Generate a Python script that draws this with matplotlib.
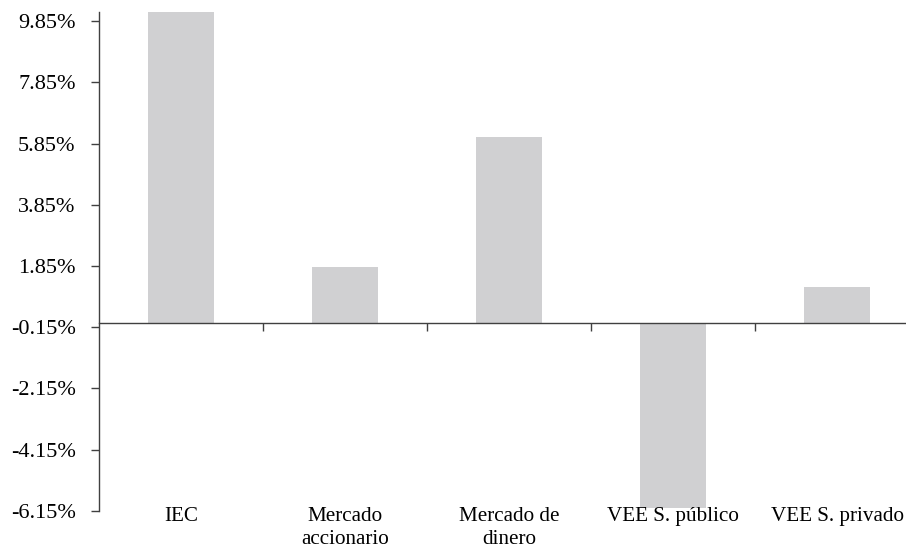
import matplotlib
matplotlib.use("Agg")
import matplotlib.pyplot as plt
import matplotlib.transforms as mtransforms
import numpy as np

categories = ["IEC", "Mercado\naccionario", "Mercado de\ndinero", "VEE S. público", "VEE S. privado"]
values = [10.15, 1.82, 6.07, -6.06, 1.15]
ytick_vals = [-6.15, -4.15, -2.15, -0.15, 1.85, 3.85, 5.85, 7.85, 9.85]
ytick_labels = ["%.2f%%" % v for v in ytick_vals]

plt.rcParams['font.family'] = ['Liberation Serif', 'DejaVu Serif']
fig = plt.figure(figsize=(9.06, 5.51), dpi=100)
ax = fig.add_axes([0.1096, 0.0731, 0.905, 0.905])

x = np.arange(len(categories))
ax.bar(x, values, width=0.4, color="#D0D0D2", zorder=1, clip_on=False)

ax.set_xlim(-0.5, len(categories) - 0.5)
ax.set_ylim(-6.15, 10.15)

axis_col = "#404040"
for s in ["top", "right"]:
    ax.spines[s].set_visible(False)
ax.spines["left"].set_color(axis_col)
ax.spines["bottom"].set_color(axis_col)
ax.spines["left"].set_linewidth(1.0)
ax.spines["bottom"].set_linewidth(1.0)
ax.spines["bottom"].set_position(("data", 0))
ax.spines["bottom"].set_zorder(3)

ax.set_yticks(ytick_vals)
ax.set_yticklabels(ytick_labels, fontsize=16)
ax.tick_params(axis="y", direction="out", length=6, width=1, color=axis_col, pad=11)

ax.set_xticks(np.arange(len(categories)) + 0.5)
ax.set_xticklabels([])
ax.tick_params(axis="x", direction="out", length=6, width=1, color=axis_col)

trans = mtransforms.blended_transform_factory(ax.transData, ax.transAxes)
for xi, lab in zip(x, categories):
    ax.text(xi, 0.007, lab, transform=trans, ha="center", va="top",
            fontsize=15.2, linespacing=1.3, color="black")

fig.savefig("out.png", dpi=100)
